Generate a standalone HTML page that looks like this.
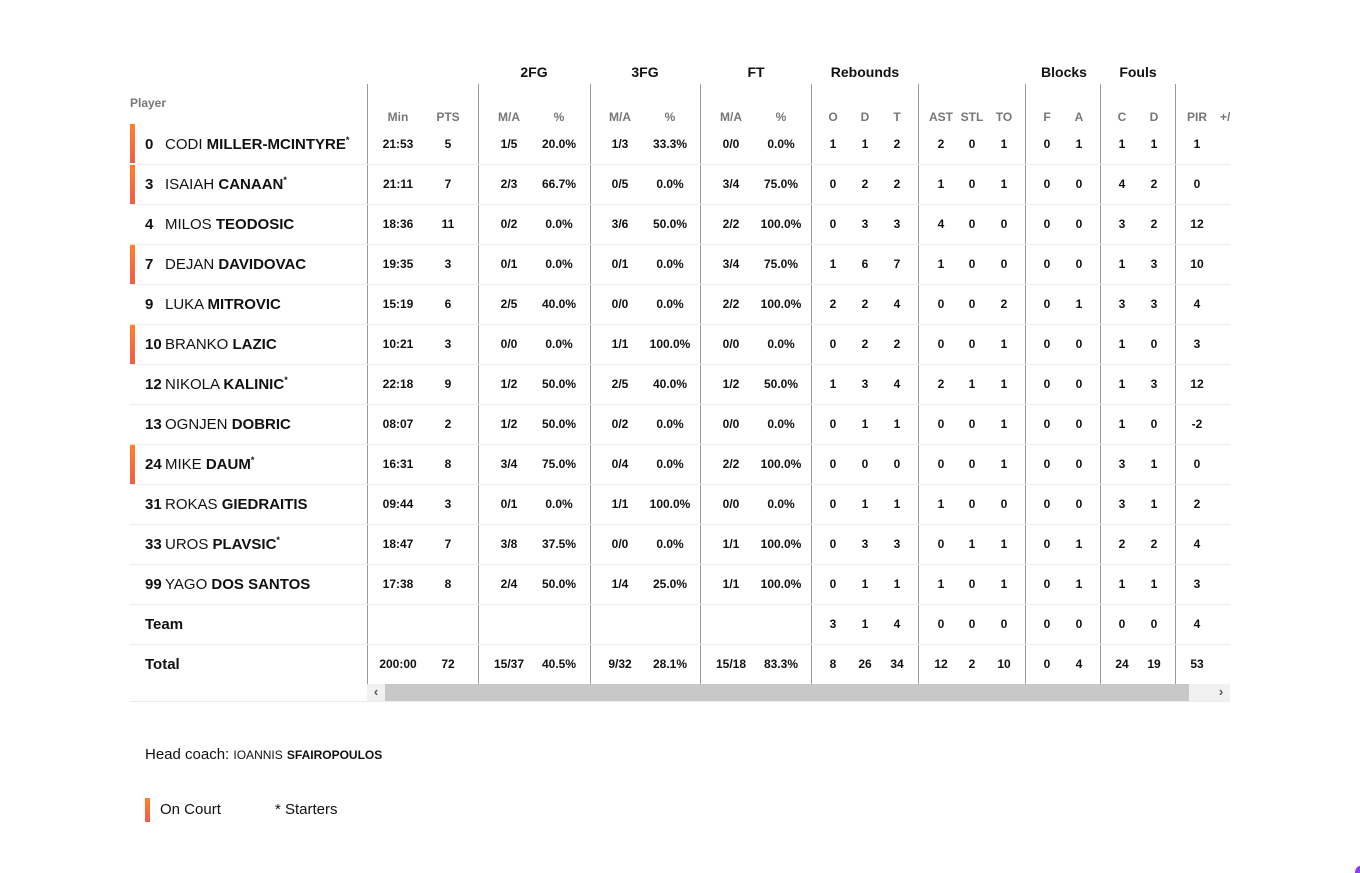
<!DOCTYPE html>
<html><head><meta charset="utf-8">
<style>
*{margin:0;padding:0;box-sizing:border-box}
html,body{width:1360px;height:873px;background:#fff;overflow:hidden}
body{font-family:"Liberation Sans",sans-serif;color:#111;position:relative}
.clip{position:absolute;left:0;top:0;width:1230px;height:873px;overflow:hidden}
.g{position:absolute;top:62px;font-weight:bold;font-size:14px;color:#111;width:100px;text-align:center;margin-left:-50px;line-height:20px}
.vl{position:absolute;top:84px;height:600px;width:1px;background:#9a9a9a}
.hl{position:absolute;left:130px;width:1100px;height:1px;background:#ececec}
.r{position:absolute;left:0;width:1230px;height:40px;line-height:40px}
.r span.c{position:absolute;width:60px;margin-left:-30px;text-align:center;font-weight:bold;font-size:12px}
.h{position:absolute;left:0;top:104px;width:1230px;height:26px;line-height:26px}
.h span.c{position:absolute;width:60px;margin-left:-30px;text-align:center;font-weight:bold;font-size:12px;color:#777}
.c0{left:398px}.c1{left:448px}.c2{left:509px}.c3{left:559px}.c4{left:620px}.c5{left:670px}.c6{left:731px}.c7{left:781px}
.c8{left:833px}.c9{left:865px}.c10{left:897px}.c11{left:941px}.c12{left:972px}.c13{left:1004px}.c14{left:1047px}.c15{left:1079px}
.c16{left:1122px}.c17{left:1154px}.c18{left:1197px}
.nm{position:absolute;left:145px;top:1px;font-size:15px;white-space:nowrap}
.nm .n{display:inline-block;width:20px;font-weight:bold}
.nm b{font-weight:bold}
.nm sup{font-size:9px;vertical-align:6px;font-weight:bold;line-height:0}
.oc{position:absolute;left:130px;width:5px;height:39px;background:linear-gradient(#ff8127,#f15c4c)}
</style></head><body>
<div class="clip">
<div style="position:absolute;left:130px;top:96px;font-size:12px;font-weight:bold;color:#777">Player</div>
<div class="g" style="left:534px">2FG</div>
<div class="g" style="left:645px">3FG</div>
<div class="g" style="left:756px">FT</div>
<div class="g" style="left:865px">Rebounds</div>
<div class="g" style="left:1064px">Blocks</div>
<div class="g" style="left:1138px">Fouls</div>

<div class="vl" style="left:367px"></div>
<div class="vl" style="left:478px"></div>
<div class="vl" style="left:590px"></div>
<div class="vl" style="left:700px"></div>
<div class="vl" style="left:811px"></div>
<div class="vl" style="left:918px"></div>
<div class="vl" style="left:1025px"></div>
<div class="vl" style="left:1100px"></div>
<div class="vl" style="left:1175px"></div>

<div class="hl" style="top:164px"></div>
<div class="hl" style="top:204px"></div>
<div class="hl" style="top:244px"></div>
<div class="hl" style="top:284px"></div>
<div class="hl" style="top:324px"></div>
<div class="hl" style="top:364px"></div>
<div class="hl" style="top:404px"></div>
<div class="hl" style="top:444px"></div>
<div class="hl" style="top:484px"></div>
<div class="hl" style="top:524px"></div>
<div class="hl" style="top:564px"></div>
<div class="hl" style="top:604px"></div>
<div class="hl" style="top:644px"></div>
<div class="hl" style="top:701px"></div>

<div class="oc" style="top:124px"></div>
<div class="oc" style="top:165px"></div>
<div class="oc" style="top:245px"></div>
<div class="oc" style="top:325px"></div>
<div class="oc" style="top:445px"></div>

<div class="h"><span class="c c0">Min</span><span class="c c1">PTS</span><span class="c c2">M/A</span><span class="c c3">%</span><span class="c c4">M/A</span><span class="c c5">%</span><span class="c c6">M/A</span><span class="c c7">%</span><span class="c c8">O</span><span class="c c9">D</span><span class="c c10">T</span><span class="c c11">AST</span><span class="c c12">STL</span><span class="c c13">TO</span><span class="c c14">F</span><span class="c c15">A</span><span class="c c16">C</span><span class="c c17">D</span><span class="c c18">PIR</span><span style="position:absolute;left:1220px;font-weight:bold;font-size:12px;color:#777;white-space:nowrap">+/-</span></div>

<div class="r" style="top:124px"><span class="nm"><span class="n">0</span>CODI <b>MILLER-MCINTYRE</b><sup>*</sup></span><span class="c c0">21:53</span><span class="c c1">5</span><span class="c c2">1/5</span><span class="c c3">20.0%</span><span class="c c4">1/3</span><span class="c c5">33.3%</span><span class="c c6">0/0</span><span class="c c7">0.0%</span><span class="c c8">1</span><span class="c c9">1</span><span class="c c10">2</span><span class="c c11">2</span><span class="c c12">0</span><span class="c c13">1</span><span class="c c14">0</span><span class="c c15">1</span><span class="c c16">1</span><span class="c c17">1</span><span class="c c18">1</span></div>

<div class="r" style="top:164px"><span class="nm"><span class="n">3</span>ISAIAH <b>CANAAN</b><sup>*</sup></span><span class="c c0">21:11</span><span class="c c1">7</span><span class="c c2">2/3</span><span class="c c3">66.7%</span><span class="c c4">0/5</span><span class="c c5">0.0%</span><span class="c c6">3/4</span><span class="c c7">75.0%</span><span class="c c8">0</span><span class="c c9">2</span><span class="c c10">2</span><span class="c c11">1</span><span class="c c12">0</span><span class="c c13">1</span><span class="c c14">0</span><span class="c c15">0</span><span class="c c16">4</span><span class="c c17">2</span><span class="c c18">0</span></div>

<div class="r" style="top:204px"><span class="nm"><span class="n">4</span>MILOS <b>TEODOSIC</b></span><span class="c c0">18:36</span><span class="c c1">11</span><span class="c c2">0/2</span><span class="c c3">0.0%</span><span class="c c4">3/6</span><span class="c c5">50.0%</span><span class="c c6">2/2</span><span class="c c7">100.0%</span><span class="c c8">0</span><span class="c c9">3</span><span class="c c10">3</span><span class="c c11">4</span><span class="c c12">0</span><span class="c c13">0</span><span class="c c14">0</span><span class="c c15">0</span><span class="c c16">3</span><span class="c c17">2</span><span class="c c18">12</span></div>

<div class="r" style="top:244px"><span class="nm"><span class="n">7</span>DEJAN <b>DAVIDOVAC</b></span><span class="c c0">19:35</span><span class="c c1">3</span><span class="c c2">0/1</span><span class="c c3">0.0%</span><span class="c c4">0/1</span><span class="c c5">0.0%</span><span class="c c6">3/4</span><span class="c c7">75.0%</span><span class="c c8">1</span><span class="c c9">6</span><span class="c c10">7</span><span class="c c11">1</span><span class="c c12">0</span><span class="c c13">0</span><span class="c c14">0</span><span class="c c15">0</span><span class="c c16">1</span><span class="c c17">3</span><span class="c c18">10</span></div>

<div class="r" style="top:284px"><span class="nm"><span class="n">9</span>LUKA <b>MITROVIC</b></span><span class="c c0">15:19</span><span class="c c1">6</span><span class="c c2">2/5</span><span class="c c3">40.0%</span><span class="c c4">0/0</span><span class="c c5">0.0%</span><span class="c c6">2/2</span><span class="c c7">100.0%</span><span class="c c8">2</span><span class="c c9">2</span><span class="c c10">4</span><span class="c c11">0</span><span class="c c12">0</span><span class="c c13">2</span><span class="c c14">0</span><span class="c c15">1</span><span class="c c16">3</span><span class="c c17">3</span><span class="c c18">4</span></div>

<div class="r" style="top:324px"><span class="nm"><span class="n">10</span>BRANKO <b>LAZIC</b></span><span class="c c0">10:21</span><span class="c c1">3</span><span class="c c2">0/0</span><span class="c c3">0.0%</span><span class="c c4">1/1</span><span class="c c5">100.0%</span><span class="c c6">0/0</span><span class="c c7">0.0%</span><span class="c c8">0</span><span class="c c9">2</span><span class="c c10">2</span><span class="c c11">0</span><span class="c c12">0</span><span class="c c13">1</span><span class="c c14">0</span><span class="c c15">0</span><span class="c c16">1</span><span class="c c17">0</span><span class="c c18">3</span></div>

<div class="r" style="top:364px"><span class="nm"><span class="n">12</span>NIKOLA <b>KALINIC</b><sup>*</sup></span><span class="c c0">22:18</span><span class="c c1">9</span><span class="c c2">1/2</span><span class="c c3">50.0%</span><span class="c c4">2/5</span><span class="c c5">40.0%</span><span class="c c6">1/2</span><span class="c c7">50.0%</span><span class="c c8">1</span><span class="c c9">3</span><span class="c c10">4</span><span class="c c11">2</span><span class="c c12">1</span><span class="c c13">1</span><span class="c c14">0</span><span class="c c15">0</span><span class="c c16">1</span><span class="c c17">3</span><span class="c c18">12</span></div>

<div class="r" style="top:404px"><span class="nm"><span class="n">13</span>OGNJEN <b>DOBRIC</b></span><span class="c c0">08:07</span><span class="c c1">2</span><span class="c c2">1/2</span><span class="c c3">50.0%</span><span class="c c4">0/2</span><span class="c c5">0.0%</span><span class="c c6">0/0</span><span class="c c7">0.0%</span><span class="c c8">0</span><span class="c c9">1</span><span class="c c10">1</span><span class="c c11">0</span><span class="c c12">0</span><span class="c c13">1</span><span class="c c14">0</span><span class="c c15">0</span><span class="c c16">1</span><span class="c c17">0</span><span class="c c18">-2</span></div>

<div class="r" style="top:444px"><span class="nm"><span class="n">24</span>MIKE <b>DAUM</b><sup>*</sup></span><span class="c c0">16:31</span><span class="c c1">8</span><span class="c c2">3/4</span><span class="c c3">75.0%</span><span class="c c4">0/4</span><span class="c c5">0.0%</span><span class="c c6">2/2</span><span class="c c7">100.0%</span><span class="c c8">0</span><span class="c c9">0</span><span class="c c10">0</span><span class="c c11">0</span><span class="c c12">0</span><span class="c c13">1</span><span class="c c14">0</span><span class="c c15">0</span><span class="c c16">3</span><span class="c c17">1</span><span class="c c18">0</span></div>

<div class="r" style="top:484px"><span class="nm"><span class="n">31</span>ROKAS <b>GIEDRAITIS</b></span><span class="c c0">09:44</span><span class="c c1">3</span><span class="c c2">0/1</span><span class="c c3">0.0%</span><span class="c c4">1/1</span><span class="c c5">100.0%</span><span class="c c6">0/0</span><span class="c c7">0.0%</span><span class="c c8">0</span><span class="c c9">1</span><span class="c c10">1</span><span class="c c11">1</span><span class="c c12">0</span><span class="c c13">0</span><span class="c c14">0</span><span class="c c15">0</span><span class="c c16">3</span><span class="c c17">1</span><span class="c c18">2</span></div>

<div class="r" style="top:524px"><span class="nm"><span class="n">33</span>UROS <b>PLAVSIC</b><sup>*</sup></span><span class="c c0">18:47</span><span class="c c1">7</span><span class="c c2">3/8</span><span class="c c3">37.5%</span><span class="c c4">0/0</span><span class="c c5">0.0%</span><span class="c c6">1/1</span><span class="c c7">100.0%</span><span class="c c8">0</span><span class="c c9">3</span><span class="c c10">3</span><span class="c c11">0</span><span class="c c12">1</span><span class="c c13">1</span><span class="c c14">0</span><span class="c c15">1</span><span class="c c16">2</span><span class="c c17">2</span><span class="c c18">4</span></div>

<div class="r" style="top:564px"><span class="nm"><span class="n">99</span>YAGO <b>DOS SANTOS</b></span><span class="c c0">17:38</span><span class="c c1">8</span><span class="c c2">2/4</span><span class="c c3">50.0%</span><span class="c c4">1/4</span><span class="c c5">25.0%</span><span class="c c6">1/1</span><span class="c c7">100.0%</span><span class="c c8">0</span><span class="c c9">1</span><span class="c c10">1</span><span class="c c11">1</span><span class="c c12">0</span><span class="c c13">1</span><span class="c c14">0</span><span class="c c15">1</span><span class="c c16">1</span><span class="c c17">1</span><span class="c c18">3</span></div>

<div class="r" style="top:604px"><span class="nm"><b>Team</b></span><span class="c c8">3</span><span class="c c9">1</span><span class="c c10">4</span><span class="c c11">0</span><span class="c c12">0</span><span class="c c13">0</span><span class="c c14">0</span><span class="c c15">0</span><span class="c c16">0</span><span class="c c17">0</span><span class="c c18">4</span></div>

<div class="r" style="top:644px"><span class="nm"><b>Total</b></span><span class="c c0">200:00</span><span class="c c1">72</span><span class="c c2">15/37</span><span class="c c3">40.5%</span><span class="c c4">9/32</span><span class="c c5">28.1%</span><span class="c c6">15/18</span><span class="c c7">83.3%</span><span class="c c8">8</span><span class="c c9">26</span><span class="c c10">34</span><span class="c c11">12</span><span class="c c12">2</span><span class="c c13">10</span><span class="c c14">0</span><span class="c c15">4</span><span class="c c16">24</span><span class="c c17">19</span><span class="c c18">53</span></div>

<!-- scrollbar -->
<div style="position:absolute;left:367px;top:684px;width:863px;height:17px;background:#f1f1f1"></div>
<div style="position:absolute;left:385px;top:684px;width:804px;height:17px;background:#c8c8c8"></div>
<div style="position:absolute;left:367px;top:684px;width:18px;height:17px;line-height:16px;text-align:center;font-size:13px;font-weight:bold;color:#555">&#8249;</div>
<div style="position:absolute;left:1212px;top:684px;width:18px;height:17px;line-height:16px;text-align:center;font-size:13px;font-weight:bold;color:#555">&#8250;</div>
</div>

<div style="position:absolute;left:145px;top:746px;font-size:15px;line-height:18px;white-space:nowrap">Head coach: <span style="font-size:12px">IOANNIS</span> <b style="font-size:12px">SFAIROPOULOS</b></div>

<div style="position:absolute;left:145px;top:798px;width:5px;height:24px;background:linear-gradient(#ff8127,#f15c4c)"></div>
<div style="position:absolute;left:160px;top:801px;font-size:15px;line-height:18px">On Court</div>
<div style="position:absolute;left:275px;top:801px;font-size:15px;line-height:18px">* Starters</div>

<div style="position:absolute;left:1355px;top:866px;width:5px;height:7px;background:#8a3ff0;border-top-left-radius:5px 7px"></div>
</body></html>
